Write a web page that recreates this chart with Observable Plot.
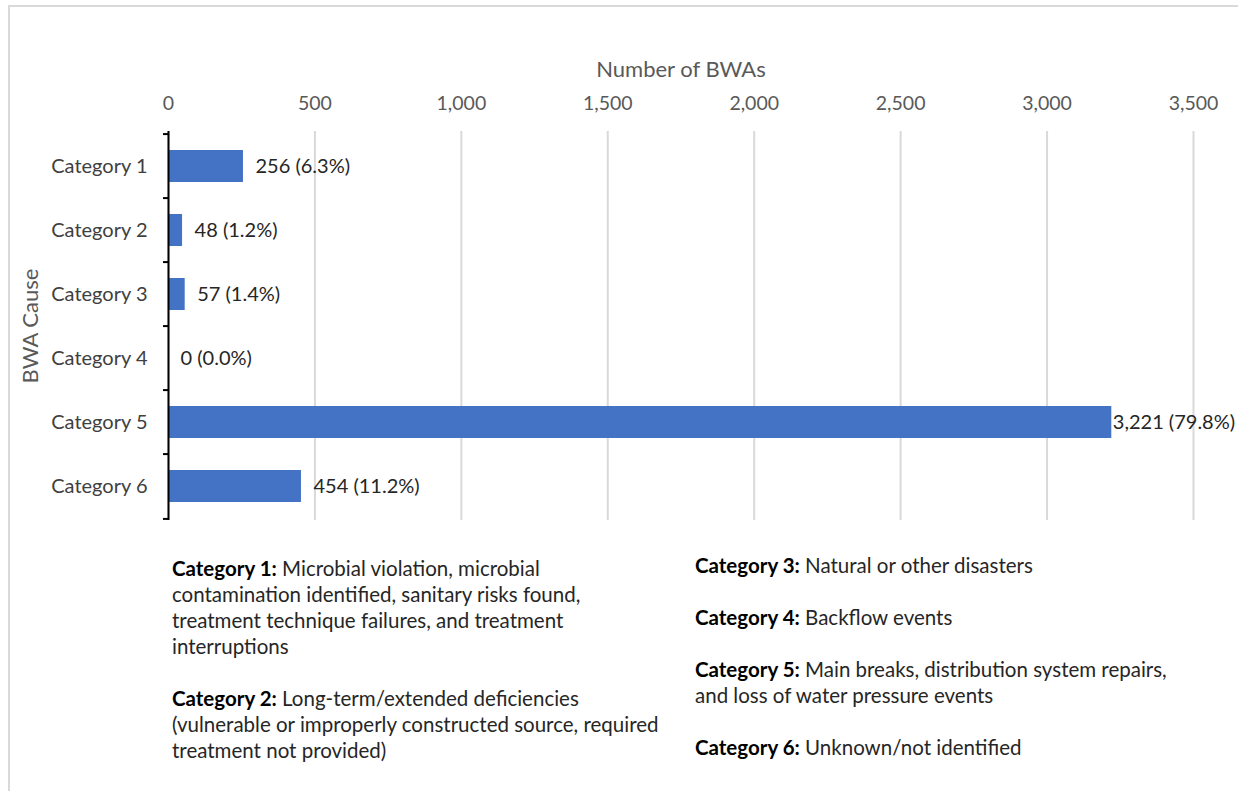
<!DOCTYPE html>
<html>
<head>
<meta charset="utf-8">
<script src="https://cdn.jsdelivr.net/npm/d3@7"></script>
<script src="https://cdn.jsdelivr.net/npm/@observablehq/plot@0.6"></script>
<style>
  html, body { margin: 0; padding: 0; background: #fff; }
  #wrap { position: relative; width: 1238px; height: 791px; overflow: hidden; font-family: Lato, "Open Sans", sans-serif; }
  #frame { position: absolute; left: 8px; top: 5px; right: -4px; bottom: -4px; border-left: 2px solid #d9d9d9; border-top: 2px solid #d9d9d9; }
  #chart { position: absolute; left: 0; top: 0; }
  .legcol { position: absolute; font-size: 20.5px; line-height: 26px; color: #262626; white-space: nowrap; }
  .legcol p { margin: 0 0 26px 0; }
  .legcol b { color: #000; }
</style>
</head>
<body>
<div id="wrap">
  <div id="frame"></div>
  <div id="chart"></div>
  <div id="legL" class="legcol" style="left:172px; top:555px;"></div>
  <div id="legR" class="legcol" style="left:695px; top:552px;"></div>
</div>
<script>
const categories = ["Category 1", "Category 2", "Category 3", "Category 4", "Category 5", "Category 6"];
const counts = [256, 48, 57, 0, 3221, 454];
const percents = [6.3, 1.2, 1.4, 0.0, 79.8, 11.2];
const xTicks = [0, 500, 1000, 1500, 2000, 2500, 3000, 3500];
const legendHeads = ["Category 1:", "Category 2:", "Category 3:", "Category 4:", "Category 5:", "Category 6:"];
const legendLines = [
  ["Microbial violation, microbial", "contamination identified,  sanitary risks found,", "treatment technique failures, and treatment", "interruptions"],
  ["Long-term/extended  deficiencies", "(vulnerable or improperly constructed source, required", "treatment not provided)"],
  ["Natural or other disasters"],
  ["Backflow events"],
  ["Main breaks, distribution system repairs,", "and loss of water pressure events"],
  ["Unknown/not identified"]
];

const data = categories.map((c, i) => ({cat: c, n: counts[i], pct: percents[i]}));

const W = 1238, H = 540, mT = 131, mB = 20, mL = 168, mR = 45;
const step = (H - mT - mB) / categories.length;
const fmt = d3.format(",");
const xMax = 3500;
const label = d => `${fmt(d.n)} (${d.pct.toFixed(1)}%)`;
const fits = d => d.n < xMax * 0.85;

const chart = Plot.plot({
  width: W, height: H,
  marginLeft: mL, marginRight: mR, marginTop: mT, marginBottom: mB,
  style: {fontFamily: "Lato, 'Open Sans', sans-serif", fontSize: "20px", background: "transparent", color: "#404040", overflow: "visible"},
  x: {domain: [0, xMax], ticks: xTicks},
  y: {domain: categories, paddingInner: 0.5, paddingOuter: 0.25},
  marks: [
    Plot.gridX(xTicks, {stroke: "#d9d9d9", strokeOpacity: 1, strokeWidth: 2}),
    Plot.axisX({anchor: "top", ticks: xTicks, tickSize: 0, tickPadding: 22, tickFormat: fmt,
      label: "Number of BWAs", labelAnchor: "center", labelOffset: 70, labelArrow: false,
      fill: "#595959", fontSize: 19.5}),
    Plot.axisY({tickSize: 0, tickPadding: 21, label: "BWA Cause", labelAnchor: "center",
      labelOffset: 146, labelArrow: false, fill: "#404040", fontSize: 20}),
    Plot.barX(data, {x: "n", y: "cat", fill: "#4472C4"}),
    Plot.ruleX([0], {stroke: "#000", strokeWidth: 2}),
    Plot.ruleY(categories, {y: d => d, dy: -step / 2, x1: -17, x2: 0, stroke: "#000", strokeWidth: 2}),
    Plot.ruleY(categories.slice(-1), {y: d => d, dy: step / 2, x1: -17, x2: 0, stroke: "#000", strokeWidth: 2}),
    Plot.text(data.filter(fits), {x: "n", y: "cat", text: label,
      textAnchor: "start", dx: 12, fill: "#262626", fontSize: 20}),
    Plot.text(data.filter(d => !fits(d)), {x: "n", y: "cat", text: label,
      textAnchor: "start", dx: 1, fill: "#262626", fontSize: 20})
  ]
});
// Axis titles slightly larger and gray
chart.querySelectorAll("g[aria-label='x-axis label'] text, g[aria-label='y-axis label'] text").forEach(t => {
  t.setAttribute("font-size", "22");
  t.setAttribute("fill", "#595959");
});
document.getElementById("chart").appendChild(chart);

function para(i) {
  const p = document.createElement("p");
  const b = document.createElement("b");
  b.textContent = legendHeads[i];
  p.appendChild(b);
  legendLines[i].forEach((line, j) => {
    if (j > 0) p.appendChild(document.createElement("br"));
    p.appendChild(document.createTextNode((j === 0 ? " " : "") + line));
  });
  return p;
}
const L = document.getElementById("legL"), R = document.getElementById("legR");
[0, 1].forEach(i => L.appendChild(para(i)));
[2, 3, 4, 5].forEach(i => R.appendChild(para(i)));
</script>
</body>
</html>
